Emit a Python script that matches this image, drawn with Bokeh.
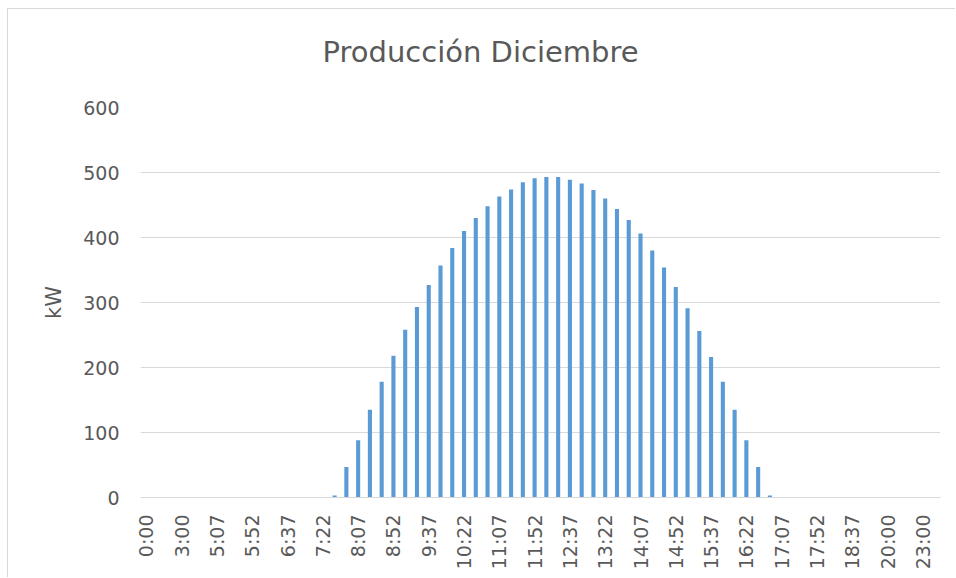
import math
from bokeh.plotting import figure
from bokeh.models import Range1d, FixedTicker, ColumnDataSource, Title
from bokeh.embed import file_html
from bokeh.resources import INLINE

times = ["0:00", "1:00", "2:00", "3:00", "4:00", "4:52", "5:07", "5:22", "5:37", "5:52",
         "6:07", "6:22", "6:37", "6:52", "7:07", "7:22", "7:37", "7:52", "8:07", "8:22",
         "8:37", "8:52", "9:07", "9:22", "9:37", "9:52", "10:07", "10:22", "10:37", "10:52",
         "11:07", "11:22", "11:37", "11:52", "12:07", "12:22", "12:37", "12:52", "13:07", "13:22",
         "13:37", "13:52", "14:07", "14:22", "14:37", "14:52", "15:07", "15:22", "15:37", "15:52",
         "16:07", "16:22", "16:37", "16:52", "17:07", "17:22", "17:37", "17:52", "18:07", "18:22",
         "18:37", "18:52", "19:00", "20:00", "21:00", "22:00", "23:00", "23:30"]

kw = [0, 0, 0, 0, 0, 0, 0, 0, 0, 0,
      0, 0, 0, 0, 0, 0, 3, 47, 88, 135,
      178, 218, 258, 293, 327, 357, 384, 410, 430, 448,
      463, 474, 485, 491, 493, 493, 489, 483, 473, 460,
      444, 427, 406, 380, 354, 324, 291, 256, 216, 178,
      135, 88, 47, 3, 0, 0, 0, 0, 0, 0,
      0, 0, 0, 0, 0, 0, 0, 0]

y_ticks = [0, 100, 200, 300, 400, 500, 600]
title_text = "Producción Diciembre"

idx = list(range(len(times)))
src = ColumnDataSource(dict(x=idx, top=kw))

FONT = "DejaVu Sans"
TXT = "#595959"

p = figure(width=948, height=569, output_backend="svg", toolbar_location=None,
           x_range=Range1d(-0.5, len(times) - 0.5), y_range=Range1d(0, 600),
           min_border_left=132, min_border_right=16, min_border_top=98, min_border_bottom=81)
p.styles = {"border-left": "1px solid #d9d9d9", "border-top": "1px solid #d9d9d9",
            "margin-left": "7px", "margin-top": "8px"}

p.vbar(x="x", top="top", width=0.35, source=src, fill_color="#5b9bd5", line_color=None)

p.title.text = title_text
p.title.align = "left"
p.title.offset = 182
p.title.text_font = FONT
p.title.text_font_size = "29px"
p.title.text_font_style = "normal"
p.title.text_color = TXT
p.title.standoff = 10
# invisible spacer panel between the title and the plot area
p.add_layout(Title(text=" ", text_font_size="10px", standoff=21), "above")

p.outline_line_color = None
p.xgrid.grid_line_color = None
p.ygrid.grid_line_color = "#d9d9d9"
p.ygrid.grid_line_width = 1

p.yaxis.ticker = FixedTicker(ticks=y_ticks)
p.yaxis.axis_line_color = None
p.yaxis.major_tick_line_color = None
p.yaxis.minor_tick_line_color = None
p.yaxis.major_tick_out = 0
p.yaxis.major_tick_in = 0
p.yaxis.major_label_standoff = 21
p.yaxis.major_label_text_font = FONT
p.yaxis.major_label_text_font_size = "19px"
p.yaxis.major_label_text_color = TXT
p.yaxis.axis_label = "kW"
p.yaxis.axis_label_text_font = FONT
p.yaxis.axis_label_text_font_size = "21px"
p.yaxis.axis_label_text_font_style = "normal"
p.yaxis.axis_label_text_color = TXT
p.yaxis.axis_label_standoff = 14

tick_idx = idx[0:67:3]
p.xaxis.ticker = FixedTicker(ticks=tick_idx)
p.xaxis.major_label_overrides = {i: times[i] for i in tick_idx}
p.xaxis.major_label_orientation = math.pi / 2
p.xaxis.axis_line_color = "#d9d9d9"
p.xaxis.major_tick_line_color = None
p.xaxis.minor_tick_line_color = None
p.xaxis.major_tick_out = 0
p.xaxis.major_tick_in = 0
p.xaxis.major_label_standoff = 17
p.xaxis.major_label_text_font = FONT
p.xaxis.major_label_text_font_size = "19px"
p.xaxis.major_label_text_color = TXT

open("out.html", "w").write(file_html(p, INLINE))
